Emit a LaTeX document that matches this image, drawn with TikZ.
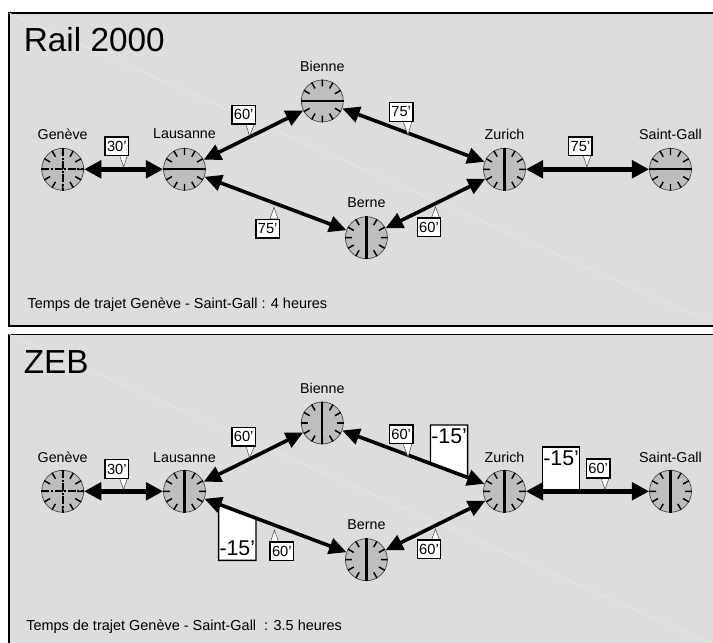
\documentclass[tikz,border=0pt]{standalone}
\usepackage{fontspec}
\setmainfont{Liberation Sans}
\usetikzlibrary{arrows.meta,calc}

\definecolor{panelgray}{RGB}{221,221,221}
\definecolor{facegray}{RGB}{190,190,190}
\definecolor{seamgray}{RGB}{231,231,231}

\tikzset{
  panel/.style={draw=black,line width=1.2pt,fill=panelgray},
  seam/.style={seamgray,line width=0.5pt},
  station/.style={circle,draw=black!75,line width=0.5pt,fill=facegray,minimum size=31.5pt,inner sep=0pt},
  tick/.style={black,line width=1.1pt},
  hand/.style={black,line width=1.7pt},
  crosshand/.style={black,line width=1.7pt,dash pattern={on 6pt off 1.2pt on 1.5pt off 1.2pt}},
  place/.style={font=\fontsize{10.7}{12}\selectfont,inner sep=0pt},
  delay/.style={draw=black,line width=1.1pt,fill=white,font=\fontsize{11}{12}\selectfont,minimum width=17.5pt,minimum height=14pt,inner sep=0pt},
  pointer/.style={draw=black!70,line width=0.4pt,fill=white},
  cutbox/.style={draw=black,line width=1.1pt,fill=white},
  cuttext/.style={font=\fontsize{16}{18}\selectfont,inner sep=0pt},
  thinlink/.style={{Triangle[length=13pt,width=12pt]}-{Triangle[length=13pt,width=12pt]},line width=2.7pt},
  thicklink/.style={{Triangle[length=13pt,width=13pt]}-{Triangle[length=13pt,width=13pt]},line width=3.4pt},
}

% twelve ticks round a station
\newcommand{\clockticks}[1]{
  \foreach \a in {0,30,...,330}
    \draw [tick] ($(#1)!0.68!(#1.\a)$) -- (#1.\a);
}

\begin{document}
\begin{tikzpicture}[x=0.75pt,y=0.75pt,yscale=-1,xscale=1]
\useasboundingbox (0,0) rectangle (713,642);

%Shape: Rectangle
\draw [panel] (9,13) rectangle (720,325.7);
\draw [panel] (9,334.3) rectangle (720,650);
%Straight Lines
\draw [seam] (9,13) -- (713,323);
\draw [seam] (9,334.3) -- (713,644);

% Text Node
\node (railtitle) [anchor=west,inner sep=0pt,font=\fontsize{25}{28}\selectfont] at (23.6,39.5) {Rail 2000};
\node (railtime) [anchor=west,inner sep=0pt,font=\fontsize{10.85}{12}\selectfont] at (27.3,305) {Temps de trajet Genève - Saint-Gall : 4 heures};
\node (zebtitle) [anchor=west,inner sep=0pt,font=\fontsize{25}{28}\selectfont] at (23.6,362) {ZEB};
\node (zebtime) [anchor=west,inner sep=0pt,font=\fontsize{10.85}{12}\selectfont] at (26,627) {Temps de trajet Genève - Saint-Gall~ : 3.5 heures};

% Text Node
\node (gena) [place] at (62.7,134) {Genève};
\node (laua) [place] at (184.5,134) {Lausanne};
\node (biea) [place] at (322.3,66) {Bienne};
\node (bera) [place] at (366.4,203) {Berne};
\node (zura) [place] at (504.5,134) {Zurich};
\node (saia) [place] at (670.5,134) {Saint-Gall};
\node (genb) [place] at (62.7,457.3) {Genève};
\node (laub) [place] at (184.5,457.3) {Lausanne};
\node (bieb) [place] at (322.3,388) {Bienne};
\node (berb) [place] at (366.4,525) {Berne};
\node (zurb) [place] at (504.5,457.3) {Zurich};
\node (saib) [place] at (670.5,457.3) {Saint-Gall};

%Shape: Circle
\node (gen) [station] at (62.7,169.3) {};
\node (lau) [station] at (184.5,169.3) {};
\node (bie) [station] at (322.3,101) {};
\node (ber) [station] at (366.4,237.7) {};
\node (zur) [station] at (504.5,169.3) {};
\node (sai) [station] at (670.5,169.3) {};
\node (gen2) [station] at (62.7,491.3) {};
\node (lau2) [station] at (184.5,491.3) {};
\node (bie2) [station] at (322.3,423) {};
\node (ber2) [station] at (366.4,559.7) {};
\node (zur2) [station] at (504.5,491.3) {};
\node (sai2) [station] at (670.5,491.3) {};

\foreach \n in {gen,lau,bie,ber,zur,sai,gen2,lau2,bie2,ber2,zur2,sai2} {
  \clockticks{\n}
}

%Straight Lines
\draw [crosshand] (gen.west) -- (gen.east);
\draw [crosshand] (gen.north) -- (gen.south);
\draw [hand] (lau.west) -- (lau.east);
\draw [hand] (bie.west) -- (bie.east);
\draw [hand] (ber.north) -- (ber.south);
\draw [hand] (zur.north) -- (zur.south);
\draw [hand] (sai.west) -- (sai.east);
\draw [crosshand] (gen2.west) -- (gen2.east);
\draw [crosshand] (gen2.north) -- (gen2.south);
\draw [hand] (lau2.north) -- (lau2.south);
\draw [hand] (bie2.north) -- (bie2.south);
\draw [hand] (ber2.north) -- (ber2.south);
\draw [hand] (zur2.north) -- (zur2.south);
\draw [hand] (sai2.north) -- (sai2.south);

%Shape: Polygon
\draw [cutbox] (430.5,425) -- (467.7,425) -- (467.7,477.5) -- (430.5,463.6) -- cycle;
\draw [cutbox] (542.7,447) -- (579.5,447) -- (579.5,491.3) -- (542.7,491.3) -- cycle;
\draw [cutbox] (218.6,504) -- (256,518) -- (256,560.3) -- (218.6,560.3) -- cycle;

%Straight Lines
\draw [thicklink] (gen) -- (lau);
\draw [thinlink] (lau) -- (bie);
\draw [thinlink] (bie) -- (zur);
\draw [thinlink] (lau) -- (ber);
\draw [thinlink] (ber) -- (zur);
\draw [thicklink] (zur) -- (sai);
\draw [thicklink] (gen2) -- (lau2);
\draw [thinlink] (lau2) -- (bie2);
\draw [thinlink] (bie2) -- (zur2);
\draw [thinlink] (lau2) -- (ber2);
\draw [thinlink] (ber2) -- (zur2);
\draw [thicklink] (zur2) -- (sai2);

%Shape: Triangle
\draw [pointer] (119.5,155) -- (127.5,155) -- (123.6,167) -- cycle;
\draw [pointer] (246,124) -- (254.5,124) -- (249.5,136) -- cycle;
\draw [pointer] (403,121) -- (412,121) -- (408,135) -- cycle;
\draw [pointer] (583,155) -- (591,155) -- (587,167) -- cycle;
\draw [pointer] (270,219) -- (278,219) -- (274,207.3) -- cycle;
\draw [pointer] (431.5,218) -- (439.5,218) -- (435.5,206.7) -- cycle;
\draw [pointer] (119.5,478) -- (127.5,478) -- (123.6,489.5) -- cycle;
\draw [pointer] (246,446) -- (254.5,446) -- (249.5,457.7) -- cycle;
\draw [pointer] (403,443.7) -- (412,443.7) -- (408,457) -- cycle;
\draw [pointer] (601,478) -- (609,478) -- (605,489.5) -- cycle;
\draw [pointer] (270.5,541.7) -- (278.5,541.7) -- (274.5,530) -- cycle;
\draw [pointer] (431.5,540) -- (439.5,540) -- (435.5,529) -- cycle;

% Text Node
\node (rt30) [delay] at (116.8,146.3) {30'};
\node (rt60a) [delay] at (243.7,114.6) {60'};
\node (rt75a) [delay] at (401.2,112) {75'};
\node (rt75b) [delay] at (580.4,146.3) {75'};
\node (rt75c) [delay] at (267.7,228.6) {75'};
\node (rt60b) [delay] at (429,227.3) {60'};
\node (zt30) [delay] at (116.8,469) {30'};
\node (zt60a) [delay] at (243.7,436.8) {60'};
\node (zt60b) [delay] at (401.2,434.2) {60'};
\node (zt60c) [delay] at (598.2,468.5) {60'};
\node (zt60d) [delay] at (281.8,551.3) {60'};
\node (zt60e) [delay] at (429,549.3) {60'};

% Text Node
\node (cuta) [cuttext] at (449.1,436.5) {-15'};
\node (cutb) [cuttext] at (561.1,458.5) {-15'};
\node (cutc) [cuttext] at (237.3,548.5) {-15'};

\end{tikzpicture}
\end{document}
